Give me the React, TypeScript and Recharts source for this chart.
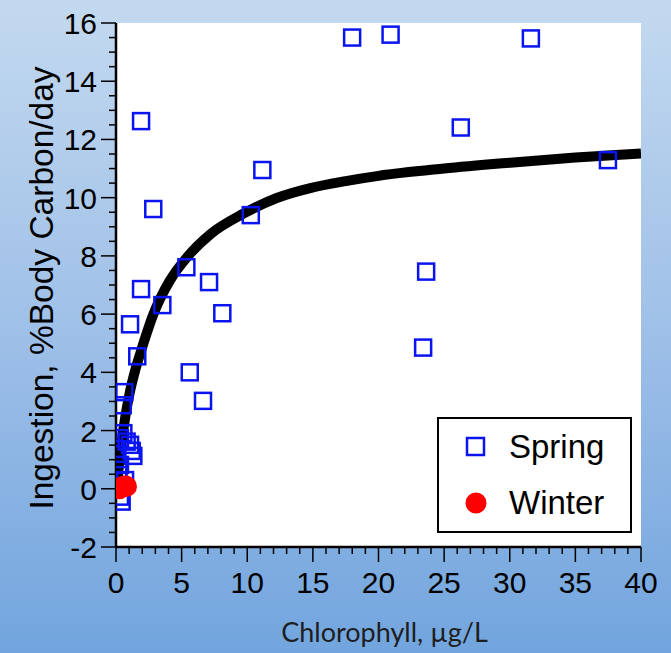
import { ComposedChart, Line, Scatter, XAxis, YAxis, CartesianGrid, Legend } from "recharts";

// tick labels
const xMajor = [0, 5, 10, 15, 20, 25, 30, 35, 40];
const yMajor = [-2, 0, 2, 4, 6, 8, 10, 12, 14, 16];

// minor ticks: every 1 on x, every 0.5 on y
const xTicks = Array.from({ length: 41 }, (_, i) => i);
const yTicks = Array.from({ length: 37 }, (_, i) => -2 + i * 0.5);

// Spring samples (open squares)
const springX = [
  17.99, 20.92, 31.61, 1.91, 26.27, 11.15, 37.48, 2.84, 10.27, 5.36, 23.63, 7.09, 1.91, 3.53, 8.1, 1.07, 1.62,
  5.62, 23.4, 6.63, 0.63, 0.51, 0.3, 0.56, 0.81, 1.07, 1.32, 1.2, 0.3, 0.18, 0.18, 0.69, 0.3, 0.43,
];
const springY = [
  15.5, 15.6, 15.47, 12.63, 12.41, 10.95, 11.29, 9.61, 9.4, 7.61, 7.46, 7.1, 6.86, 6.31, 6.03, 5.65, 4.55, 4.0,
  4.85, 3.02, 3.32, 2.87, 1.74, 1.91, 1.62, 1.51, 1.13, 1.3, 0.82, 0.65, 0.47, 0.3, -0.27, -0.44,
];

// Winter samples (filled circles)
const winterX = [0.25, 0.4, 0.55, 0.7, 0.8];
const winterY = [0.0, 0.05, 0.08, 0.1, 0.08];

// fitted ingestion curve
const curveX = [0.08, 0.2, 0.4, 0.7, 1.0, 1.45, 1.85, 2.85, 4.1, 5.4, 7.2, 9.7, 12.25, 14.8, 17.5, 20, 25, 30, 35, 40];
const curveY = [
  0.1, 0.7, 1.5, 2.45, 3.2, 4.05, 4.65, 6.0, 7.15, 7.95, 8.75, 9.45, 9.99, 10.33, 10.57, 10.75, 11.0, 11.2, 11.38,
  11.52,
];

const spring = springX.map((x, i) => ({ x, y: springY[i] }));
const winter = winterX.map((x, i) => ({ x, y: winterY[i] }));
const curve = curveX.map((x, i) => ({ x, y: curveY[i] }));

const ARIAL = "'Liberation Sans', Arial, sans-serif";

function XTick(props: any) {
  const { x, y, payload } = props;
  const major = xMajor.includes(payload.value);
  return (
    <g>
      <line x1={x} x2={x} y1={y} y2={y + (major ? 15 : 7)} stroke="#000" strokeWidth={1.5} />
      {major && (
        <text x={x} y={y + 46} textAnchor="middle" fontSize={30} fontFamily={ARIAL} fill="#000">
          {payload.value}
        </text>
      )}
    </g>
  );
}

function YTick(props: any) {
  const { x, y, payload } = props;
  const major = yMajor.includes(payload.value);
  return (
    <g>
      <line x1={x - (major ? 15 : 7)} x2={x} y1={y} y2={y} stroke="#000" strokeWidth={1.5} />
      {major && (
        <text x={x - 19} y={y + 11} textAnchor="end" fontSize={30} fontFamily={ARIAL} fill="#000">
          {payload.value}
        </text>
      )}
    </g>
  );
}

function SquareMark(props: any) {
  const { cx, cy } = props;
  return <rect x={cx - 8} y={cy - 8} width={16} height={16} fill="none" stroke="#0a14f0" strokeWidth={2.5} />;
}

function DotMark(props: any) {
  const { cx, cy } = props;
  return <circle cx={cx} cy={cy} r={10.5} fill="#ff0000" />;
}

function LegendBox() {
  return (
    <div
      style={{
        boxSizing: "border-box",
        width: 195,
        height: 116,
        border: "2.5px solid #000",
        background: "#fff",
        fontFamily: ARIAL,
        fontSize: 33,
        color: "#000",
        padding: "2px 0 0 26px",
      }}
    >
      <div style={{ display: "flex", alignItems: "center", height: 52 }}>
        <svg width={22} height={22} style={{ marginRight: 22 }}>
          <rect x={2} y={2} width={17} height={17} fill="none" stroke="#0a14f0" strokeWidth={2.5} />
        </svg>
        Spring
      </div>
      <div style={{ display: "flex", alignItems: "center", height: 60 }}>
        <svg width={22} height={22} style={{ marginRight: 22 }}>
          <circle cx={11} cy={11} r={10.5} fill="#ff0000" />
        </svg>
        Winter
      </div>
    </div>
  );
}

function YLabel(props: any) {
  const vb = props.viewBox;
  const cx = vb.x + 41;
  const cy = vb.y + vb.height / 2 + 3;
  return (
    <text
      x={cx}
      y={cy}
      transform={`rotate(-90 ${cx} ${cy})`}
      textAnchor="middle"
      dominantBaseline="central"
      fontSize={33.5}
      fontFamily={ARIAL}
      fill="#000"
    >
      Ingestion, %Body Carbon/day
    </text>
  );
}

function XLabel(props: any) {
  const vb = props.viewBox;
  return (
    <text
      x={vb.x + vb.width / 2 + 6}
      y={vb.y + 95}
      textAnchor="middle"
      fontSize={27}
      fontFamily="Lato, 'Open Sans', sans-serif"
      fill="#1e1e1e"
    >
      Chlorophyll, µg/L
    </text>
  );
}

export default function App() {
  return (
    <div
      style={{
        position: "absolute",
        left: 0,
        top: 0,
        width: 671,
        height: 653,
        background: "linear-gradient(to bottom, #c3d9ef 0%, #9fc0e8 50%, #72a5de 100%)",
      }}
    >
      <ComposedChart width={671} height={653} margin={{ top: 23, right: 30, bottom: 46, left: 0 }}>
        <CartesianGrid horizontal={false} vertical={false} fill="#ffffff" />
        <XAxis
          dataKey="x"
          type="number"
          domain={[0, 40]}
          ticks={xTicks}
          interval={0}
          allowDataOverflow
          height={60}
          tickSize={0}
          tickMargin={0}
          tickLine={false}
          axisLine={{ stroke: "#000", strokeWidth: 2.5 }}
          tick={<XTick />}
          label={{ content: <XLabel /> }}
        />
        <XAxis
          xAxisId="top"
          orientation="top"
          type="number"
          domain={[0, 40]}
          height={0}
          tick={false}
          tickLine={false}
          axisLine={{ stroke: "#000", strokeWidth: 2.5 }}
        />
        <YAxis
          type="number"
          domain={[-2, 16]}
          ticks={yTicks}
          interval={0}
          allowDataOverflow
          width={116}
          tickSize={0}
          tickMargin={0}
          tickLine={false}
          axisLine={{ stroke: "#000", strokeWidth: 2.5 }}
          tick={<YTick />}
          label={{ content: <YLabel /> }}
        />
        <YAxis
          yAxisId="right"
          orientation="right"
          type="number"
          domain={[-2, 16]}
          width={0}
          tick={false}
          tickLine={false}
          axisLine={{ stroke: "#000", strokeWidth: 2.5 }}
        />
        <Line
          data={curve}
          dataKey="y"
          type="monotone"
          stroke="#000"
          strokeWidth={10}
          dot={false}
          activeDot={false}
          legendType="none"
          isAnimationActive={false}
        />
        <Scatter name="Spring" data={spring} dataKey="y" shape={<SquareMark />} isAnimationActive={false} />
        <Scatter name="Winter" data={winter} dataKey="y" shape={<DotMark />} isAnimationActive={false} />
        <Legend
          layout="vertical"
          align="center"
          verticalAlign="middle"
          content={<LegendBox />}
          wrapperStyle={{ position: "absolute", left: 437, top: 417, width: 195, height: 116 }}
        />
      </ComposedChart>
    </div>
  );
}
